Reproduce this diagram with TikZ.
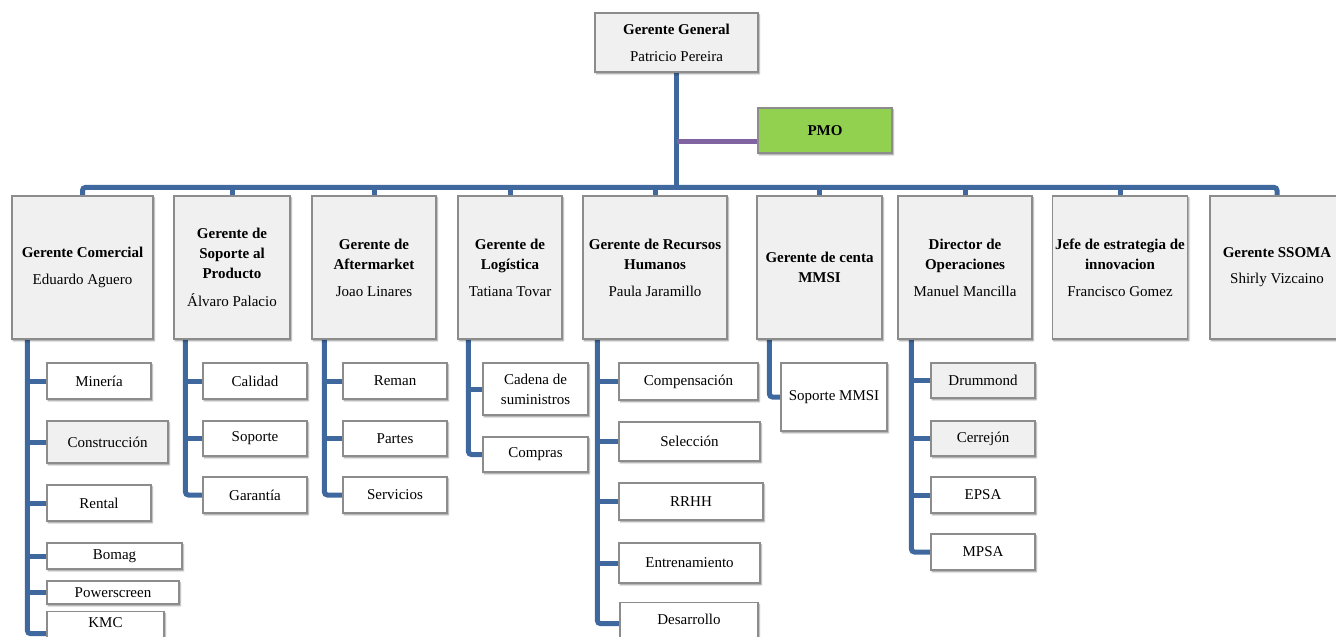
\documentclass[tikz,border=0pt]{standalone}
\usepackage{fontspec}
\setmainfont{Liberation Serif}
\usetikzlibrary{shadows.blur,backgrounds,calc}
\definecolor{lineblue}{RGB}{62,104,158}
\definecolor{purp}{RGB}{128,100,162}
\definecolor{pmogreen}{RGB}{146,208,80}
\definecolor{boxgray}{RGB}{240,240,240}
\definecolor{edgegray}{RGB}{140,140,140}
\begin{document}
\begin{tikzpicture}[x=1pt,y=-1pt,
  box/.style={draw=edgegray, line width=1.2pt, fill=white, inner sep=3pt, align=center,
    font=\fontsize{15}{20}\selectfont,
    blur shadow={shadow xshift=1.2pt, shadow yshift=-1.8pt, shadow blur steps=4, shadow blur radius=1.5pt, shadow opacity=45}},
  gbox/.style={box, fill=boxgray},
  conn/.style={draw=lineblue, line width=5pt, rounded corners=3pt},
  pconn/.style={draw=purp, line width=5pt}]
\useasboundingbox (0,0) rectangle (1336,637);
\clip (0,0) rectangle (1336,637);

% top
\node[gbox, minimum width=163pt, minimum height=59pt] (gg) at (676.5,42.5) {\textbf{Gerente General}\\[7pt]Patricio Pereira};
\node[box, fill=pmogreen, minimum width=134pt, minimum height=45pt] (pmo) at (825,130.5) {\textbf{PMO}};

% level 1
\node[gbox, minimum width=141pt, minimum height=143pt] (com) at (82.5,267.5) {\textbf{Gerente Comercial}\\[7pt]Eduardo Aguero};
\node[gbox, minimum width=116pt, minimum height=143pt] (sop) at (232,267.5) {\textbf{Gerente de}\\\textbf{Soporte al}\\\textbf{Producto}\\[7.5pt]Álvaro Palacio};
\node[gbox, minimum width=124pt, minimum height=143pt] (aft) at (374,267.5) {\textbf{Gerente de}\\\textbf{Aftermarket}\\[7pt]Joao Linares};
\node[gbox, minimum width=104pt, minimum height=143pt] (log) at (510,267.5) {\textbf{Gerente de}\\\textbf{Logística}\\[7pt]Tatiana Tovar};
\node[gbox, minimum width=144pt, minimum height=143pt] (rh) at (655,267.5) {\textbf{Gerente de Recursos}\\\textbf{Humanos}\\[7pt]Paula Jaramillo};
\node[gbox, minimum width=125pt, minimum height=143pt] (mmsi) at (819.5,267.5) {\textbf{Gerente de centa}\\\textbf{MMSI}};
\node[gbox, minimum width=134pt, minimum height=143pt] (dir) at (965,267.5) {\textbf{Director de}\\\textbf{Operaciones}\\[7pt]Manuel Mancilla};
\node[gbox, minimum width=134pt, minimum height=143pt] (jefe) at (1120,267.5) {\textbf{Jefe de estrategia de}\\\textbf{innovacion}\\[7pt]Francisco Gomez};
\node[gbox, minimum width=134pt, minimum height=143pt] (ssoma) at (1277,267.5) {\textbf{Gerente SSOMA}\\[6pt]Shirly Vizcaino};

% Comercial children
\node[box, minimum width=104pt, minimum height=36pt] (min) at (99,381) {Minería};
\node[gbox, minimum width=121pt, minimum height=42pt] (cons) at (107.5,442) {Construcción};
\node[box, minimum width=104pt, minimum height=36pt] (rent) at (99,503) {Rental};
\node[box, minimum width=135pt, minimum height=26pt] (bom) at (114.5,556) {Bomag};
\node[box, minimum width=132pt, minimum height=23pt] (pow) at (113,592.5) {Powerscreen};
\node[box, minimum width=117pt, text height=13.3pt, text depth=24.7pt, anchor=north] (kmc) at (105.5,611) {KMC};

% Soporte children
\node[box, minimum width=104pt, minimum height=36pt] (cal) at (255,381) {Calidad};
\node[box, minimum width=104pt, minimum height=35pt] (spt) at (255,438.5) {Soporte};
\node[box, minimum width=104pt, minimum height=36pt] (gar) at (255,495) {Garantía};

% Aftermarket children
\node[box, minimum width=104pt, minimum height=36pt] (rem) at (395,381) {Reman};
\node[box, minimum width=104pt, minimum height=35pt] (par) at (395,438.5) {Partes};
\node[box, minimum width=104pt, minimum height=36pt] (ser) at (395,495) {Servicios};

% Logistica children
\node[box, minimum width=105pt, minimum height=52pt] (cad) at (535.5,389) {Cadena de\\suministros};
\node[box, minimum width=105pt, minimum height=35pt] (comp) at (535.5,454.5) {Compras};

% RRHH children
\node[box, minimum width=139pt, minimum height=37pt] (cps) at (688.5,381.5) {Compensación};
\node[box, minimum width=141pt, minimum height=39pt] (sel) at (689.5,441.5) {Selección};
\node[box, minimum width=144pt, minimum height=37pt] (rrhh) at (691,501.5) {RRHH};
\node[box, minimum width=141pt, minimum height=40pt] (ent) at (689.5,563) {Entrenamiento};
\node[box, minimum width=138pt, text height=18.5pt, text depth=17.5pt, anchor=north] (des) at (689,602) {Desarrollo};

% MMSI child
\node[box, minimum width=106pt, minimum height=68pt] (smm) at (834,397) {Soporte MMSI};

% Director children
\node[gbox, minimum width=104pt, minimum height=35pt] (dru) at (983,380.5) {Drummond};
\node[gbox, minimum width=104pt, minimum height=35pt] (cer) at (983,438.5) {Cerrejón};
\node[box, minimum width=104pt, minimum height=36pt] (eps) at (983,495) {EPSA};
\node[box, minimum width=104pt, minimum height=36pt] (mps) at (983,552) {MPSA};

\begin{scope}[on background layer]
  \coordinate (bus) at (0,188);
  \draw[conn] (com.north) -- ++(0,-8) -| (ssoma.north);
  \foreach \n in {sop,aft,log,rh,mmsi,dir,jefe} \draw[conn, rounded corners=0pt] (\n.north) -- ++(0,-10);
  \draw[conn, rounded corners=0pt] (gg.south) -- ([yshift=-2pt]gg.south |- bus);
  \coordinate (pmoin) at ([yshift=-10.5pt]pmo.west);
  \draw[pconn] (gg.south |- pmoin) -- (pmoin);

  \coordinate (comx) at ([xshift=16pt]com.south west);
  \draw[conn] (comx) |- (kmc.west);
  \foreach \c in {min,cons,rent,bom,pow} \draw[conn, rounded corners=0pt] (comx |- \c.west) -- (\c.west);

  \coordinate (sopx) at ([xshift=12pt]sop.south west);
  \draw[conn] (sopx) |- (gar.west);
  \foreach \c in {cal,spt} \draw[conn, rounded corners=0pt] (sopx |- \c.west) -- (\c.west);

  \coordinate (aftx) at ([xshift=13pt]aft.south west);
  \draw[conn] (aftx) |- (ser.west);
  \foreach \c in {rem,par} \draw[conn, rounded corners=0pt] (aftx |- \c.west) -- (\c.west);

  \coordinate (logx) at ([xshift=11pt]log.south west);
  \draw[conn] (logx) |- (comp.west);
  \draw[conn, rounded corners=0pt] (logx |- cad.west) -- (cad.west);

  \coordinate (rhx) at ([xshift=15pt]rh.south west);
  \draw[conn] (rhx) |- (des.west);
  \foreach \c in {cps,sel,rrhh,ent} \draw[conn, rounded corners=0pt] (rhx |- \c.west) -- (\c.west);

  \coordinate (mmx) at ([xshift=13pt]mmsi.south west);
  \draw[conn] (mmx) |- (smm.west);

  \coordinate (dirx) at ([xshift=14pt]dir.south west);
  \draw[conn] (dirx) |- (mps.west);
  \foreach \c in {dru,cer,eps} \draw[conn, rounded corners=0pt] (dirx |- \c.west) -- (\c.west);
\end{scope}
\end{tikzpicture}
\end{document}
